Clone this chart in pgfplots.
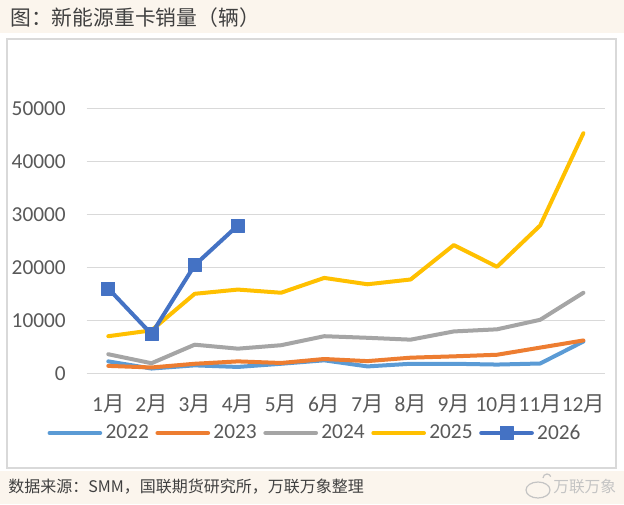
\documentclass[border=0pt]{standalone}
\usepackage{pgfplots}
\pgfplotsset{compat=1.18}
\usepackage{fontspec}
\setmainfont{Carlito}
\newfontfamily\cjk{Noto Sans CJK SC}
\definecolor{cream}{RGB}{251,245,237}
\definecolor{boxgray}{RGB}{217,217,217}
\definecolor{gridgray}{RGB}{217,217,217}
\definecolor{tickgray}{RGB}{89,89,89}
\definecolor{titlegray}{RGB}{64,64,64}
\definecolor{wmgray}{RGB}{196,196,196}
\definecolor{c2022}{RGB}{91,155,213}
\definecolor{c2023}{RGB}{237,125,49}
\definecolor{c2024}{RGB}{165,165,165}
\definecolor{c2025}{RGB}{255,192,0}
\definecolor{c2026}{RGB}{68,114,196}
\newcommand{\m}[1]{#1{\cjk 月}}
\begin{document}
\begin{tikzpicture}
\useasboundingbox (0,0) rectangle (468pt,-378pt);
\fill[cream] (0,0) rectangle (468pt,-378pt);
\fill[white] (0,-33*0.75pt) rectangle (468pt,-471*0.75pt);
\draw[boxgray, line width=1.1pt] (7*0.75pt,-39*0.75pt) rectangle (616*0.75pt,-468*0.75pt);
\node[anchor=west, inner sep=0pt, text=titlegray, font=\cjk\fontsize{15.6}{18}\selectfont] at (7.5pt,-13.5pt) {图：新能源重卡销量（辆）};
\node[anchor=west, inner sep=0pt, text=titlegray, font=\cjk\fontsize{12}{14}\selectfont] at (8*0.75pt,-486.7*0.75pt) {数据来源：SMM，国联期货研究所，万联万象整理};
\node[anchor=west, inner sep=0pt, text=wmgray, font=\cjk\fontsize{11.8}{14}\selectfont] at (553*0.75pt,-487*0.75pt) {万联万象};
\draw[wmgray, line width=0.9pt] (538*0.75pt,-490*0.75pt) ellipse [x radius=9pt, y radius=6pt];
\draw[wmgray, line width=0.9pt] (543*0.75pt,-478*0.75pt) arc[start angle=180, end angle=20, radius=3pt];
\begin{axis}[
  at={(86.7*0.75pt,-373.3*0.75pt)}, anchor=south west,
  scale only axis, width=388.7pt, height=238.5pt,
  xmin=0.5, xmax=12.5, ymin=0, ymax=60000,
  xtick={1,...,12},
  xticklabels={\m{1},\m{2},\m{3},\m{4},\m{5},\m{6},\m{7},\m{8},\m{9},\m{10},\m{11},\m{12}},
  ytick={0,10000,20000,30000,40000,50000},
  /pgf/number format/assume math mode=true,
  /pgf/number format/1000 sep={},
  scaled y ticks=false,
  ymajorgrids,
  major grid style={draw=gridgray, line width=0.9pt},
  axis line style={draw=none},
  tick style={draw=none},
  ticklabel style={font=\fontsize{16}{19}\selectfont, text=tickgray},
  yticklabel style={anchor=east, inner sep=0pt, xshift=-15.5pt},
  xticklabel style={anchor=center, inner sep=0pt, yshift=-23pt},
  legend columns=5,
  legend style={at={(0.4386,-0.1877)}, anchor=center, draw=none, fill=none,
    font=\fontsize{16}{19}\selectfont, text=tickgray,
    column sep=2.5pt, nodes={inner sep=0pt},
    /tikz/every even column/.append style={column sep=5pt}},
  legend image code/.code={\draw[#1, mark repeat=2, mark phase=2] plot coordinates {(0pt,0pt)(19pt,0pt)(38pt,0pt)};},
  every axis plot/.append style={line width=3pt, line join=round, line cap=round},
]
\addplot[c2022, no markers] coordinates {(1,2250)(2,900)(3,1500)(4,1200)(5,1800)(6,2450)(7,1300)(8,1800)(9,1800)(10,1650)(11,1850)(12,6000)};
\addlegendentry{2022}
\addplot[c2023, no markers] coordinates {(1,1400)(2,1100)(3,1800)(4,2250)(5,1950)(6,2700)(7,2300)(8,2950)(9,3200)(10,3500)(11,4850)(12,6200)};
\addlegendentry{2023}
\addplot[c2024, no markers] coordinates {(1,3600)(2,1900)(3,5400)(4,4650)(5,5300)(6,7000)(7,6700)(8,6350)(9,7900)(10,8300)(11,10100)(12,15200)};
\addlegendentry{2024}
\addplot[c2025, no markers] coordinates {(1,7000)(2,8100)(3,15000)(4,15800)(5,15200)(6,18000)(7,16800)(8,17700)(9,24200)(10,20100)(11,27900)(12,45300)};
\addlegendentry{2025}
\addplot[c2026, mark=square*, mark size=4.9pt, mark options={solid, fill=c2026, draw=c2026, line width=0.5pt}] coordinates {(1,16000)(2,7400)(3,20400)(4,27900)};
\addlegendentry{2026}
\end{axis}
\end{tikzpicture}
\end{document}
